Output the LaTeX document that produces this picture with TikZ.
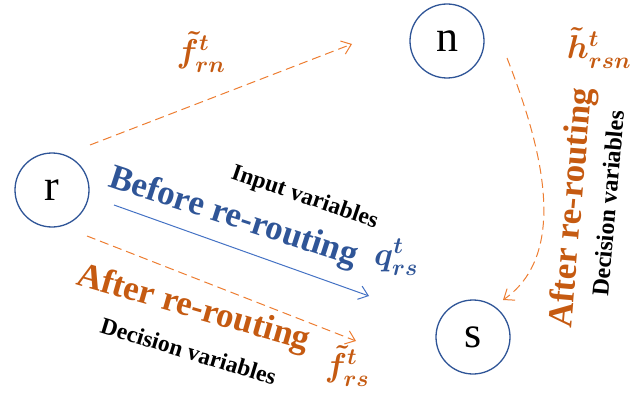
\RequirePackage{fix-cm}
\documentclass[tikz,border=0pt]{standalone}
\usepackage{amsmath, amssymb}
\usepackage{bm}
\usepackage{fontspec}
\usepackage{xcolor}
\usetikzlibrary{arrows.meta}

\newfontfamily\labelfont{Liberation Serif}

\definecolor{nodeblue}{HTML}{2F5597}
\definecolor{lineblue}{HTML}{4472C4}
\definecolor{textorange}{HTML}{C55A11}
\definecolor{lineorange}{HTML}{ED7D31}

\tikzset{
    vertex/.style={circle, draw=nodeblue, line width=1.3pt, minimum size=74pt, inner sep=0pt, font=\labelfont\fontsize{44}{44}\selectfont},
    dasharrow/.style={draw=lineorange, line width=1pt, dash pattern=on 9pt off 5pt, -{Straight Barb[length=9pt,width=14pt]}},
    solidarrow/.style={draw=lineblue, line width=1pt, -{Straight Barb[length=9pt,width=14pt]}},
    bigtext/.style={anchor=base west, inner sep=0pt, font=\labelfont\bfseries\fontsize{35}{35}\selectfont},
    smalltext/.style={anchor=base west, inner sep=0pt, font=\labelfont\bfseries\fontsize{23.5}{23.5}\selectfont},
    varlabel/.style={inner sep=0pt, font=\fontsize{33}{33}\selectfont\boldmath}
}

\begin{document}
\begin{tikzpicture}[x=1pt, y=-1pt]
    \useasboundingbox (0,0) rectangle (631,393);

    % the three places
    \node[vertex] at (52, 190)  (r) {r};
    \node[vertex] at (447, 41)  (n) {n};
    \node[vertex] at (473, 337) (s) {s};

    % free ends of the arrows
    \coordinate (rn0) at (90, 145);
    \coordinate (rn1) at (352, 44);
    \coordinate (rsb0) at (114, 205);
    \coordinate (rsb1) at (369, 296);
    \coordinate (rsa0) at (87, 236);
    \coordinate (rsa1) at (356, 341);
    \coordinate (ns0) at (507, 58);
    \coordinate (ns1) at (503, 300);

    \draw [dasharrow] (rn0) -- (rn1);
    \draw [solidarrow] (rsb0) -- (rsb1);
    \draw [dasharrow] (rsa0) -- (rsa1);
    \draw [dasharrow] (ns0) .. controls (535, 130) and (575, 250) .. (ns1);

    % labels
    \node[varlabel, textorange] at (201, 52)  (frn) {$\tilde{f}^{t}_{rn}$};
    \node[varlabel, textorange] at (599, 48)  (hrsn) {$\tilde{h}^{t}_{rsn}$};
    \node[varlabel, nodeblue]   at (396, 257) (qrs) {$q^{t}_{rs}$};
    \node[varlabel, textorange] at (347, 366) (frs) {$\tilde{f}^{t}_{rs}$};

    \node[smalltext, rotate=-19]   at (230, 178) (inp) {Input variables};
    \node[bigtext, nodeblue, rotate=-18]   at (107, 186) (before) {Before re-routing};
    \node[bigtext, textorange, rotate=-16] at (75, 284) (after) {After re-routing};
    \node[smalltext, rotate=-17]   at (99, 332) (dec) {Decision variables};

    \node[bigtext, textorange, rotate=85] at (571, 329) (afterv) {After re-routing};
    \node[smalltext, rotate=85, font=\labelfont\bfseries\fontsize{24}{24}\selectfont] at (608, 297) (decv) {Decision variables};
\end{tikzpicture}
\end{document}
